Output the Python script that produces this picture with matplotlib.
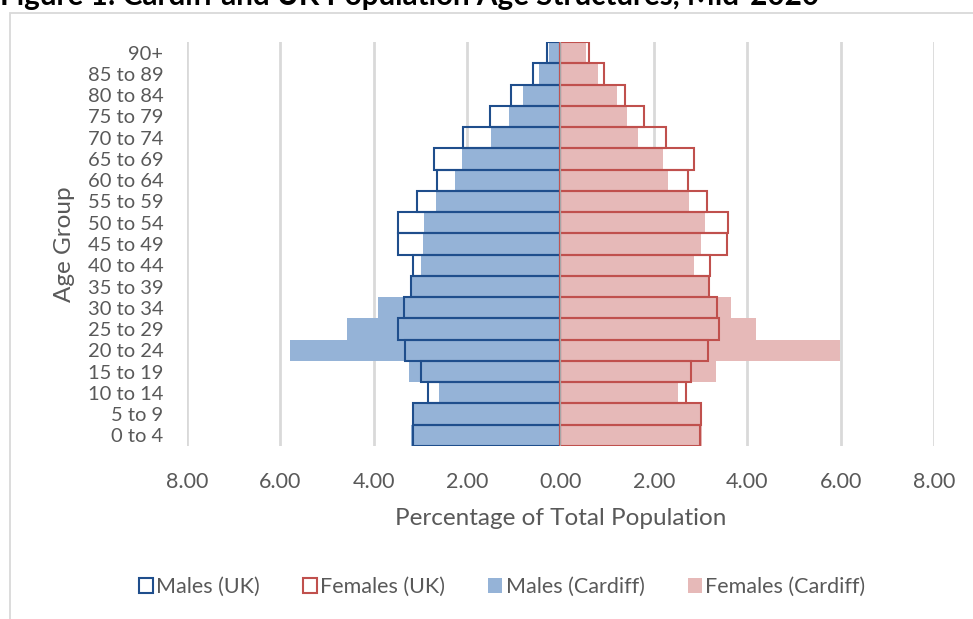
import numpy as np
import matplotlib
matplotlib.use("Agg")
import matplotlib.pyplot as plt
from matplotlib.patches import Patch, Rectangle
from matplotlib.ticker import FuncFormatter

plt.rcParams['font.family'] = ['Lato', 'DejaVu Sans']

# age bands, youngest first (drawn bottom to top)
age_groups = ['0 to 4', '5 to 9', '10 to 14', '15 to 19', '20 to 24', '25 to 29',
              '30 to 34', '35 to 39', '40 to 44', '45 to 49', '50 to 54', '55 to 59',
              '60 to 64', '65 to 69', '70 to 74', '75 to 79', '80 to 84', '85 to 89', '90+']

# % of total population in each band
males_uk = [3.15, 3.16, 2.84, 2.98, 3.33, 3.48, 3.36, 3.20, 3.17, 3.48,
            3.49, 3.07, 2.65, 2.70, 2.08, 1.52, 1.06, 0.59, 0.28]
females_uk = [2.98, 3.00, 2.69, 2.80, 3.16, 3.40, 3.36, 3.19, 3.20, 3.56,
              3.58, 3.13, 2.74, 2.85, 2.26, 1.78, 1.39, 0.93, 0.61]
males_cardiff = [3.20, 3.14, 2.61, 3.25, 5.80, 4.58, 3.90, 3.21, 2.98, 2.95,
                 2.93, 2.66, 2.27, 2.12, 1.48, 1.11, 0.81, 0.47, 0.24]
females_cardiff = [3.04, 2.98, 2.51, 3.33, 5.99, 4.18, 3.65, 3.18, 2.85, 3.00,
                   3.09, 2.75, 2.30, 2.19, 1.66, 1.42, 1.21, 0.80, 0.55]

text_grey = '#595959'
blue_edge = '#1F4E8C'
red_edge = '#C0504D'
blue_fill = '#95B3D7'
pink_fill = '#E6B9B8'

fig = plt.figure(figsize=(9.73, 6.19), dpi=100)
ax = fig.add_axes([0.1922, 0.2795, 0.7677, 0.6526])

y = np.arange(len(age_groups))

# Cardiff bars filled, UK bars as outlines on top
ax.barh(y, -np.array(males_cardiff), height=1.0, color=blue_fill, zorder=2)
ax.barh(y, females_cardiff, height=1.0, color=pink_fill, zorder=2)
ax.barh(y, -np.array(males_uk), height=1.0, fill=False, edgecolor=blue_edge,
        linewidth=1.5, zorder=3)
ax.barh(y, females_uk, height=1.0, fill=False, edgecolor=red_edge,
        linewidth=1.5, zorder=3)
ax.axvline(0, color='#a6a6a6', linewidth=0.8, zorder=4)

ax.set_xlim(-8, 8)
ax.set_ylim(-0.5, len(age_groups) - 0.5)
ax.set_xticks(np.arange(-8, 9, 2))
ax.xaxis.set_major_formatter(FuncFormatter(lambda v, p: '%.2f' % abs(v)))
ax.set_yticks(y)
ax.set_yticklabels(age_groups)

ax.grid(axis='x', color='#d9d9d9', linewidth=2, zorder=0)
ax.set_axisbelow(True)
for s in ax.spines.values():
    s.set_visible(False)
ax.tick_params(length=0, colors=text_grey)
ax.tick_params(axis='x', labelsize=15.5, pad=19)
ax.tick_params(axis='y', labelsize=14.5, pad=17)

ax.set_xlabel('Percentage of Total Population', fontsize=17.5, color=text_grey, labelpad=11)
ax.set_ylabel('Age Group', fontsize=17.5, color=text_grey, labelpad=9)

# chart frame
fig.patches.append(Rectangle((10 / 973, -0.1), 1.1, 1 - 13 / 619 + 0.1,
                             transform=fig.transFigure, fill=False,
                             edgecolor='#d9d9d9', linewidth=1.3))

fig.text(0.0, 1 - 5 / 619, 'Figure 1: Cardiff and UK Population Age Structures, Mid-2020',
         fontsize=21.3, fontweight='bold', color='black', ha='left', va='baseline')

handles = [Patch(facecolor='white', edgecolor=blue_edge, linewidth=1.5, label='Males (UK)'),
           Patch(facecolor='white', edgecolor=red_edge, linewidth=1.5, label='Females (UK)'),
           Patch(facecolor=blue_fill, edgecolor='none', label='Males (Cardiff)'),
           Patch(facecolor=pink_fill, edgecolor='none', label='Females (Cardiff)')]
leg = fig.legend(handles=handles, loc='center', bbox_to_anchor=(502 / 973, 1 - 587 / 619),
                 ncol=4, frameon=False, fontsize=15.5, handlelength=0.65, handleheight=0.65,
                 handletextpad=0.15, columnspacing=2.0)
for t in leg.get_texts():
    t.set_color(text_grey)

fig.savefig('out.png', dpi=100)
